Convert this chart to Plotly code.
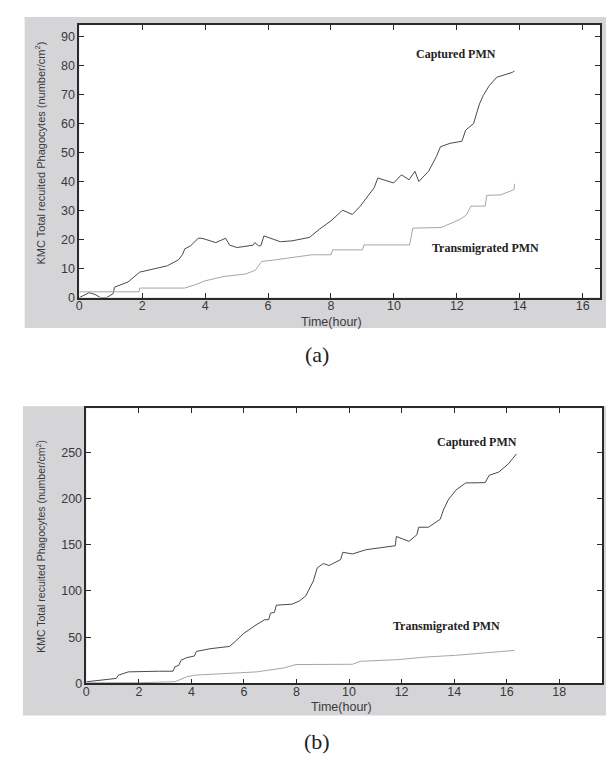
import plotly.graph_objects as go

# ---------- Panel (a) data ----------
a_cap_t = [0, 0.31, 0.5, 0.68, 0.87, 1.08, 1.12, 1.55, 1.92, 2.36, 2.8, 3.16, 3.29, 3.35, 3.54, 3.78, 3.9,
           4.34, 4.65, 4.78, 5.02, 5.52, 5.58, 5.7, 5.77, 5.87, 6.39, 6.76, 7.32, 7.63, 8.0, 8.37, 8.68,
           8.93, 9.12, 9.37, 9.49, 9.99, 10.24, 10.48, 10.67, 10.79, 11.1, 11.35, 11.48, 11.79, 12.16,
           12.28, 12.53, 12.72, 12.84, 13.03, 13.27, 13.77, 13.83]
a_cap_v = [0, 1.7, 1.1, 0, 0, 1.4, 3.6, 5.4, 8.8, 9.9, 11, 13.1, 15, 16.8, 17.9, 20.5, 20.5,
           19, 20.5, 18.1, 17.3, 18.1, 19, 17.9, 17.9, 21.3, 19.3, 19.6, 20.8, 23.6, 26.5, 30.2, 28.7,
           31.6, 34.4, 37.9, 41.3, 39.6, 42.4, 40.7, 43.6, 40.1, 43.6, 48.7, 52.1, 53.3, 54,
           57.8, 60.1, 66.9, 69.8, 73.2, 76.1, 77.8, 78.3]

a_tra_t = [0, 1.9, 1.92, 3.35, 3.7, 4.0, 4.6, 5.3, 5.6, 5.8, 6.2, 7.0, 7.4, 8.0, 8.05, 9.0, 9.05,
           10.5, 10.6, 11.5, 12.1, 12.3, 12.45, 12.9, 12.95, 13.4, 13.8, 13.82, 13.83]
a_tra_v = [2.0, 2.0, 3.3, 3.3, 4.5, 5.8, 7.3, 8.2, 9.5, 12.5, 13, 14.2, 14.8, 14.8, 16.5, 16.5, 18.2,
           18.2, 24, 24.2, 27, 28.5, 31.6, 31.6, 35.3, 35.5, 37.3, 37.3, 39.3]

# ---------- Panel (b) data ----------
b_cap_t = [0, 0.7, 1.14, 1.22, 1.6, 2.78, 3.3, 3.37, 3.52, 3.6, 3.82, 4.11, 4.19, 4.71, 5.45, 5.67,
           5.97, 6.42, 6.79, 6.94, 7.01, 7.16, 7.23, 7.83, 8.12, 8.35, 8.64, 8.79, 9.02, 9.24, 9.68,
           9.76, 10.13, 10.65, 11.76, 11.8, 12.28, 12.58, 12.65, 13.02, 13.47, 13.59, 13.77, 14.06,
           14.44, 15.18, 15.22, 15.33, 15.7, 16.07, 16.22, 16.37]
b_cap_v = [1.8, 3.6, 5.4, 8.9, 12.5, 13.2, 13.2, 17.9, 19.6, 25, 27.9, 29.6, 34.6, 37.5, 40, 45.4,
           53.6, 62.5, 68.9, 68.9, 76, 76.8, 84.6, 85.7, 89.3, 94.6, 110.7, 125, 129.6, 127.5, 133.9,
           141.8, 140, 144.6, 148.9, 158.9, 153.6, 160.7, 168.9, 168.9, 177.5, 187.5, 198.2, 208.9,
           216.8, 217.1, 219.6, 225, 228.6, 237.5, 242.9, 248.2]

b_tra_t = [0, 2.03, 3.37, 3.82, 4.11, 5.45, 6.49, 7.53, 7.98, 10.13, 10.43, 11.84, 12.95, 14.06,
           15.26, 16.29]
b_tra_v = [0.7, 0.7, 1.8, 7.1, 8.9, 10.7, 12.5, 16.8, 20.4, 20.7, 23.9, 25.7, 28.6, 30.4, 33.2, 35.7]

a_xticks = [0, 2, 4, 6, 8, 10, 12, 14, 16]
a_yticks = [0, 10, 20, 30, 40, 50, 60, 70, 80, 90]
b_xticks = [0, 2, 4, 6, 8, 10, 12, 14, 16, 18]
b_yticks = [0, 50, 100, 150, 200, 250]

ytitle = "KMC Total recuited Phagocytes (number/cm<sup>2</sup>)"
xtitle = "Time(hour)"
cap_label = "Captured PMN"
tra_label = "Transmigrated PMN"

CAP_COLOR = "#4a4a4a"
TRA_COLOR = "#a6a6a6"
GRAY = "#d5d5d8"
TICKFONT = dict(family="Liberation Sans, Arial", size=12.5, color="#3a3a3a")
SERIF = dict(family="Liberation Serif, Times New Roman", size=12, color="#222222")
SANS = "Liberation Sans, Arial"

fig = go.Figure()
fig.add_trace(go.Scatter(x=a_cap_t, y=a_cap_v, mode="lines", line=dict(color=CAP_COLOR, width=1),
                         xaxis="x", yaxis="y", showlegend=False))
fig.add_trace(go.Scatter(x=a_tra_t, y=a_tra_v, mode="lines", line=dict(color=TRA_COLOR, width=1),
                         xaxis="x", yaxis="y", showlegend=False))
fig.add_trace(go.Scatter(x=b_cap_t, y=b_cap_v, mode="lines", line=dict(color=CAP_COLOR, width=1),
                         xaxis="x2", yaxis="y2", showlegend=False))
fig.add_trace(go.Scatter(x=b_tra_t, y=b_tra_v, mode="lines", line=dict(color=TRA_COLOR, width=1),
                         xaxis="x2", yaxis="y2", showlegend=False))

axis_common = dict(showgrid=False, zeroline=False, showline=True, linecolor="#2a2a2a", linewidth=1.5,
                   mirror="allticks", ticks="inside", ticklen=5, tickcolor="#2a2a2a",
                   tickfont=TICKFONT)

fig.update_layout(
    width=614, height=762,
    margin=dict(l=0, r=0, t=0, b=0),
    paper_bgcolor="white", plot_bgcolor="white",
    xaxis=dict(domain=[0.1117, 0.964], range=[0, 16.55], tickvals=a_xticks, anchor="y",
               ticklabelstandoff=-4, **axis_common),
    yaxis=dict(domain=[0.6164, 0.9777], range=[0, 94.2], tickvals=a_yticks, anchor="x", **axis_common),
    xaxis2=dict(domain=[0.1233, 0.9674], range=[0, 19.63], tickvals=b_xticks, anchor="y2",
                ticklabelstandoff=-4, **axis_common),
    yaxis2=dict(domain=[0.1054, 0.4698], range=[0, 297.5], tickvals=b_yticks, anchor="x2", **axis_common),
    shapes=[
        dict(type="rect", xref="paper", yref="paper", x0=0.0223, x1=0.9805, y0=0.576, y1=0.988,
             fillcolor=GRAY, line=dict(width=0), layer="below"),
        dict(type="rect", xref="x domain", yref="y domain", x0=0, x1=1, y0=0, y1=1,
             fillcolor="white", line=dict(width=0), layer="below"),
        dict(type="rect", xref="paper", yref="paper", x0=0.0195, x1=0.9837, y0=0.063, y1=0.4724,
             fillcolor=GRAY, line=dict(width=0), layer="below"),
        dict(type="rect", xref="x2 domain", yref="y2 domain", x0=0, x1=1, y0=0, y1=1,
             fillcolor="white", line=dict(width=0), layer="below"),
    ],
)


def note(x, y, text, font, xref="paper", yref="paper", angle=0):
    return dict(xref=xref, yref=yref, x=x, y=y, text=text, textangle=angle, showarrow=False,
                xanchor="center", yanchor="middle", font=font)


ann = [
    note(29 / 614, 0.8084, ytitle, dict(family=SANS, size=11, color="#3a3a3a"), angle=-90),
    note(29.4 / 614, 0.2867, ytitle, dict(family=SANS, size=10.5, color="#3a3a3a"), angle=-90),
    note(0.524, 1 - 316.5 / 762, xtitle, dict(family=SANS, size=12.5, color="#3a3a3a")),
    note(0.5415, 1 - 705 / 762, xtitle, dict(family=SANS, size=12.5, color="#3a3a3a")),
    note(0.5, 1 - 350 / 762, "(a)", dict(family="Liberation Serif, Times New Roman", size=22, color="#222222")),
    note(0.5, 1 - 740 / 762, "(b)", dict(family="Liberation Serif, Times New Roman", size=22, color="#222222")),
    note(11.97, 84, "<b>" + cap_label + "</b>", SERIF, "x", "y"),
    note(12.9, 17.2, "<b>" + tra_label + "</b>", SERIF, "x", "y"),
    note(14.88, 261.5, "<b>" + cap_label + "</b>", SERIF, "x2", "y2"),
    note(13.7, 62.6, "<b>" + tra_label + "</b>", SERIF, "x2", "y2"),
]
fig.update_layout(annotations=ann)

fig.write_html("out.html")
